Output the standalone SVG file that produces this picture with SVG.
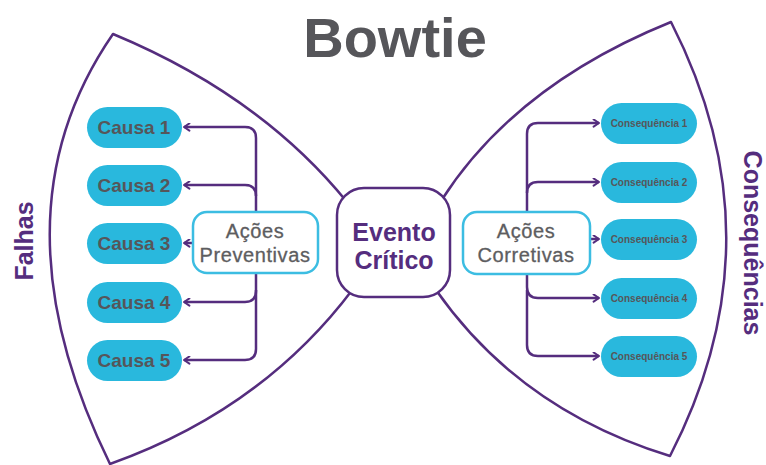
<svg xmlns="http://www.w3.org/2000/svg" width="766" height="465" viewBox="0 0 766 465">
<style>
.edge{fill:none;stroke:#552d7e;stroke-width:2.5;stroke-linejoin:round}
.conn{fill:none;stroke:#552d7e;stroke-width:2.5;stroke-linejoin:round}
.pill{fill:#29b8dd}
.ptext{font-family:"Liberation Sans",Arial,sans-serif;font-weight:bold;fill:#56565a;text-anchor:middle}
.act{fill:#fff;stroke:#3cbde2;stroke-width:2.5}
.atext{font-family:"Liberation Sans",Arial,sans-serif;font-size:20px;letter-spacing:0.6px;fill:#5d5d60;text-anchor:middle;stroke:#5d5d60;stroke-width:0.3}
.side{font-family:"Liberation Sans",Arial,sans-serif;font-weight:bold;font-size:25px;fill:#552d7e;text-anchor:middle}
</style>
<defs>
<marker id="ah" viewBox="0 0 10 10" refX="8" refY="5" markerWidth="9" markerHeight="9" markerUnits="userSpaceOnUse" orient="auto">
<path d="M2,1 L8,5 L2,9" fill="none" stroke="#552d7e" stroke-width="2.2" stroke-linejoin="round" stroke-linecap="round"/>
</marker>
</defs>
<rect width="766" height="465" fill="#fff"/>
<text x="395" y="57" font-family="Liberation Sans,Arial,sans-serif" font-weight="bold" font-size="56" fill="#56565a" text-anchor="middle">Bowtie</text>
<g id="wedges">
<path class="edge" d="M347,202 Q260,95 113,34 Q-12,215 110,464 Q262,410 353,289"/>
<path class="edge" d="M441,201 Q515,85 671,22 Q782,239 670,456 Q520,410 436,290"/>
</g>
<g id="connectors">
<path class="conn" marker-end="url(#ah)" d="M256,212 V138 Q256,127 245,127 H184"/>
<path class="conn" marker-end="url(#ah)" d="M256,196 Q256,185 245,185 H184"/>
<path class="conn" marker-end="url(#ah)" d="M193,243 H184"/>
<path class="conn" marker-end="url(#ah)" d="M256,273 V291 Q256,302 245,302 H184"/>
<path class="conn" marker-end="url(#ah)" d="M256,290 V349 Q256,360 245,360 H184"/>
<path class="conn" marker-end="url(#ah)" d="M527,212 V134 Q527,123 538,123 H599"/>
<path class="conn" marker-end="url(#ah)" d="M527,193 Q527,182 538,182 H599"/>
<path class="conn" marker-end="url(#ah)" d="M590,239 H599"/>
<path class="conn" marker-end="url(#ah)" d="M527,274 V287 Q527,298 538,298 H599"/>
<path class="conn" marker-end="url(#ah)" d="M527,290 V345 Q527,356 538,356 H599"/>
</g>
<g id="falhas"><text class="side" transform="translate(33,241) rotate(-90)">Falhas</text></g>
<g id="consequencias"><text class="side" transform="translate(744,243) rotate(90)">Consequências</text></g>
<g id="evento">
<rect x="337" y="188" width="113" height="109" rx="27" fill="#fff" stroke="#552d7e" stroke-width="2.5"/>
<text x="394" y="241" font-family="Liberation Sans,Arial,sans-serif" font-weight="bold" font-size="25" fill="#552d7e" text-anchor="middle">Evento</text>
<text x="394" y="269" font-family="Liberation Sans,Arial,sans-serif" font-weight="bold" font-size="25" fill="#552d7e" text-anchor="middle">Crítico</text>
</g>
<g id="preventivas">
<rect class="act" x="193" y="212" width="125" height="61" rx="14"/>
<text class="atext" x="255" y="238">Ações</text>
<text class="atext" x="255" y="262">Preventivas</text>
</g>
<g id="corretivas">
<rect class="act" x="463" y="212" width="127" height="62" rx="14"/>
<text class="atext" x="526" y="238">Ações</text>
<text class="atext" x="526" y="262">Corretivas</text>
</g>
<g id="causa1"><rect class="pill" x="87" y="107" width="95" height="41" rx="20.5"/><text class="ptext" x="134" y="134" font-size="19">Causa 1</text></g>
<g id="causa2"><rect class="pill" x="87" y="165" width="95" height="41" rx="20.5"/><text class="ptext" x="134" y="192" font-size="19">Causa 2</text></g>
<g id="causa3"><rect class="pill" x="87" y="223" width="95" height="41" rx="20.5"/><text class="ptext" x="134" y="250" font-size="19">Causa 3</text></g>
<g id="causa4"><rect class="pill" x="87" y="282" width="95" height="41" rx="20.5"/><text class="ptext" x="134" y="309" font-size="19">Causa 4</text></g>
<g id="causa5"><rect class="pill" x="87" y="340" width="95" height="41" rx="20.5"/><text class="ptext" x="134" y="367" font-size="19">Causa 5</text></g>
<g id="consequencia1"><rect class="pill" x="601" y="103" width="96" height="41" rx="20.5"/><text class="ptext" x="649" y="127" font-size="10">Consequência 1</text></g>
<g id="consequencia2"><rect class="pill" x="601" y="162" width="96" height="41" rx="20.5"/><text class="ptext" x="649" y="186" font-size="10">Consequência 2</text></g>
<g id="consequencia3"><rect class="pill" x="601" y="219" width="96" height="41" rx="20.5"/><text class="ptext" x="649" y="243" font-size="10">Consequência 3</text></g>
<g id="consequencia4"><rect class="pill" x="601" y="278" width="96" height="41" rx="20.5"/><text class="ptext" x="649" y="302" font-size="10">Consequência 4</text></g>
<g id="consequencia5"><rect class="pill" x="601" y="336" width="96" height="41" rx="20.5"/><text class="ptext" x="649" y="360" font-size="10">Consequência 5</text></g>
</svg>
